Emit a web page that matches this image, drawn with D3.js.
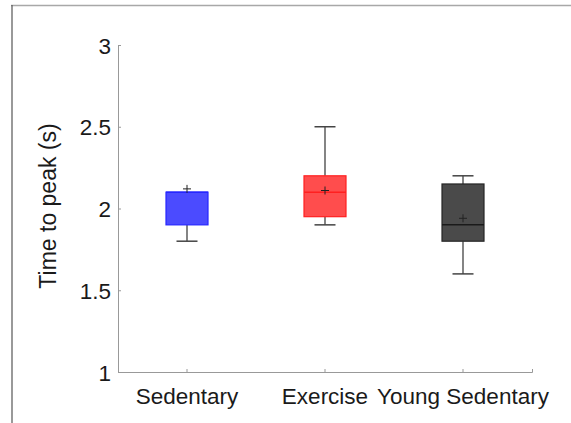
<!DOCTYPE html>
<html>
<head>
<meta charset="utf-8">
<script src="https://cdn.jsdelivr.net/npm/d3@7"></script>
<style>
  body { margin: 0; background: #fff; }
  svg { display: block; font-family: "Liberation Sans", Arial, Helvetica, sans-serif; }
</style>
</head>
<body>
<svg id="chart"></svg>
<script>
// 数据
const groups = ['Sedentary', 'Exercise', 'Young Sedentary'];
const whiskerLow = [1.8, 1.9, 1.6];
const q1 = [1.9, 1.95, 1.8];
const median = [2.1, 2.1, 1.9];
const q3 = [2.1, 2.2, 2.15];
const whiskerHigh = [2.1, 2.5, 2.2];
const means = [2.12, 2.11, 1.94];
const yTicks = [1, 1.5, 2, 2.5, 3];

const fills = ['#4b4bff', '#ff4d4d', '#4a4a4a'];
const edges = ['#2626ff', '#ff2020', '#262626'];

const width = 571, height = 423;
const margin = { left: 118, right: 39, top: 45, bottom: 51 };
const fontSize = '22.5px';

const svg = d3.select('#chart').attr('width', width).attr('height', height);

// 外框线
svg.append('line')
    .attr('x1', 11).attr('x2', width).attr('y1', 5.5).attr('y2', 5.5)
    .attr('stroke', '#a8a8a8').attr('stroke-width', 1.5);
svg.append('line')
    .attr('x1', 12).attr('x2', 12).attr('y1', 5).attr('y2', height)
    .attr('stroke', '#555').attr('stroke-width', 1.2);

const x = d3.scaleBand()
    .domain(groups)
    .range([margin.left, width - margin.right]);

const y = d3.scaleLinear()
    .domain([1, 3])
    .range([height - margin.bottom, margin.top]);

// 坐标轴
const yAxis = svg.append('g')
    .attr('transform', `translate(${margin.left},0)`)
    .call(d3.axisLeft(y).tickValues(yTicks).tickFormat(d3.format('')).tickSize(-3).tickPadding(7));

const xAxis = svg.append('g')
    .attr('transform', `translate(0,${height - margin.bottom})`)
    .call(d3.axisBottom(x).tickSize(-3).tickPadding(16));

[xAxis, yAxis].forEach(ax => {
    ax.select('.domain').attr('stroke', '#999').attr('stroke-width', 1);
    ax.selectAll('.tick line').attr('stroke', '#999');
    ax.selectAll('.tick text').attr('fill', '#1a1a1a').style('font-size', fontSize);
});
yAxis.selectAll('.tick text').attr('dy', '0.36em');

svg.append('text')
    .attr('transform', `translate(56,206) rotate(-90)`)
    .attr('text-anchor', 'middle')
    .attr('fill', '#1a1a1a')
    .style('font-size', '23px')
    .text('Time to peak (s)');

// 箱线图
const boxW = 42, capW = 21;
const boxes = svg.append('g').selectAll('g')
    .data(groups)
    .join('g')
    .attr('transform', d => `translate(${x(d) + x.bandwidth() / 2},0)`);

boxes.append('line')
    .attr('y1', (d, i) => y(whiskerLow[i])).attr('y2', (d, i) => y(q1[i]))
    .attr('stroke', '#333').attr('stroke-width', 1.2);
boxes.append('line')
    .attr('y1', (d, i) => y(q3[i])).attr('y2', (d, i) => y(whiskerHigh[i]))
    .attr('stroke', '#333').attr('stroke-width', 1.2);
boxes.append('line')
    .attr('x1', -capW / 2).attr('x2', capW / 2)
    .attr('y1', (d, i) => y(whiskerLow[i])).attr('y2', (d, i) => y(whiskerLow[i]))
    .attr('stroke', '#444').attr('stroke-width', 1.5);
boxes.filter((d, i) => whiskerHigh[i] > q3[i]).append('line')
    .attr('x1', -capW / 2).attr('x2', capW / 2)
    .attr('y1', d => y(whiskerHigh[groups.indexOf(d)])).attr('y2', d => y(whiskerHigh[groups.indexOf(d)]))
    .attr('stroke', '#444').attr('stroke-width', 1.5);

boxes.append('rect')
    .attr('x', -boxW / 2).attr('width', boxW)
    .attr('y', (d, i) => y(q3[i]))
    .attr('height', (d, i) => y(q1[i]) - y(q3[i]))
    .attr('fill', (d, i) => fills[i])
    .attr('stroke', (d, i) => edges[i]).attr('stroke-width', 1.2);

boxes.append('line')
    .attr('x1', -boxW / 2).attr('x2', boxW / 2)
    .attr('y1', (d, i) => y(median[i])).attr('y2', (d, i) => y(median[i]))
    .attr('stroke', (d, i) => i === 2 ? '#1a1a1a' : edges[i]).attr('stroke-width', 1.5);

// 均值 "+"
boxes.append('path')
    .attr('d', (d, i) => `M-4,${y(means[i])}H4M0,${y(means[i]) - 4}V${y(means[i]) + 4}`)
    .attr('stroke', '#222').attr('stroke-width', 1);
</script>
</body>
</html>
